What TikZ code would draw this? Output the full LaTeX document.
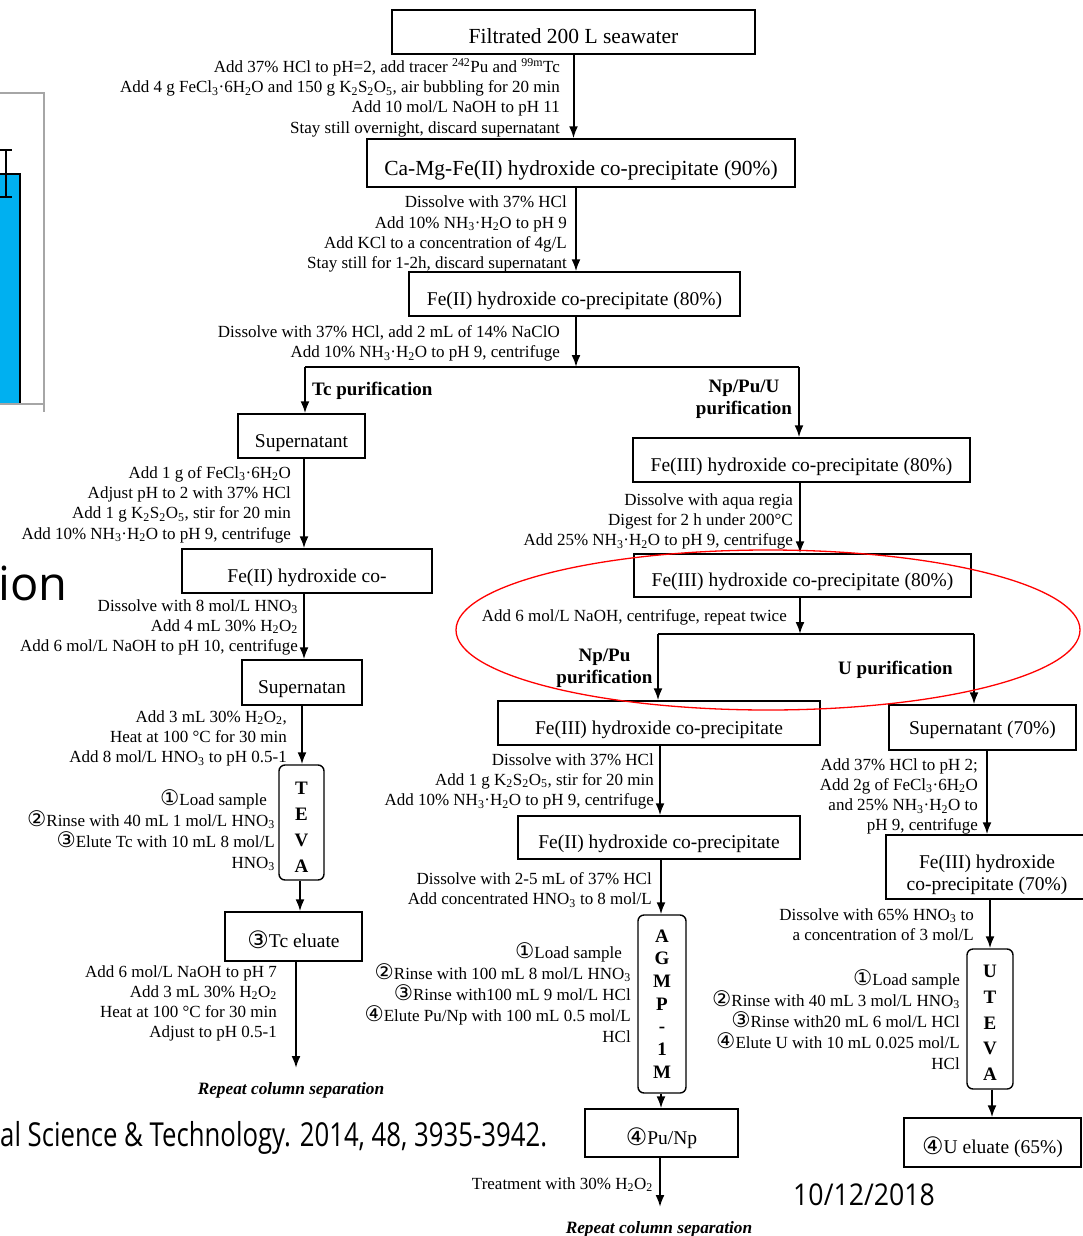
\documentclass[tikz,border=0pt]{standalone}
\usepackage{fontspec}
\usepackage{graphicx}
\setmainfont{Liberation Serif}
\newfontfamily\circf{DejaVu Sans}
\newfontfamily\osans{Open Sans}
\usetikzlibrary{arrows.meta,calc}
\newcommand\sbs[1]{\textsubscript{#1}}
\newcommand\sps[1]{\textsuperscript{#1}}
\newcommand\cn[1]{\raisebox{-0.5pt}[0pt][0pt]{\circf\fontsize{21.5}{21.5}\selectfont #1}}
\newcommand\cnb[1]{\raisebox{-1pt}[0pt][0pt]{\circf\fontsize{24}{24}\selectfont #1}}
\newcommand\nhh{NH\sbs{3}·H\sbs{2}O}
\definecolor{barblue}{HTML}{00B0F0}
\definecolor{framegray}{HTML}{A6A6A6}
\begin{document}
\begin{tikzpicture}[x=1pt,y=-1pt,
  wh/.style 2 args={minimum width=#1pt, minimum height=#2pt},
  box/.style={draw, line width=1.4pt, inner sep=0pt, text height=22pt, text depth=0pt, font=\fontsize{19.5}{22}\selectfont},
  bigbox/.style={box, text height=24pt, font=\fontsize{21.5}{24}\selectfont},
  colbox/.style={draw, line width=1.4pt, rounded corners=6pt, inner sep=0pt, align=center},
  ops/.style={inner sep=0pt, align=right, anchor=north east, font=\fontsize{17}{20.3}\selectfont},
  ops2/.style={ops, font=\fontsize{17}{21}\selectfont},
  lab/.style={inner sep=0pt, align=center, font=\bfseries\fontsize{19}{22}\selectfont},
  rep/.style={inner sep=0pt, font=\bfseries\itshape\fontsize{17.3}{20}\selectfont},
  arr/.style={line width=2pt, -{Latex[length=12pt,width=9pt]}},
  ln/.style={line width=2pt},
]
\fill[white] (0,0) rectangle (1083,1236);
\path[use as bounding box] (0,0) rectangle (1083,1236);

% chart fragment
\fill[barblue] (-2,174) rectangle (20,404);
\draw[line width=1.5pt] (-2,174) -- (20,174) -- (20,404);
\draw[framegray, line width=2pt] (-2,93) -- (44,93) -- (44,412);
\draw[framegray, line width=2pt] (-2,404) -- (44,404);
\draw[line width=1.5pt] (6,150) -- (6,197) (0,150) -- (12,150) (0,197) -- (12,197);

% sans fragments
\node[inner sep=0pt, anchor=base east, font=\osans\fontsize{47}{50}\selectfont] (ion) at (68,600) {ion};
\node[inner sep=0pt, anchor=base west, font=\osans\fontsize{33}{36}\selectfont] (cite) at (0,1146) {\scalebox{0.78}[1]{al Science \& Technology. 2014, 48, 3935-3942.}};
\node[inner sep=0pt, anchor=base west, font=\osans\fontsize{30}{34}\selectfont] (date) at (793,1205) {\scalebox{0.89}[1]{10/12/2018}};

% boxes
\node[bigbox, wh={363}{44}] (b1) at (573.5,32) {Filtrated 200 L seawater};
\node[bigbox, wh={428}{48}] (b2) at (581,163) {Ca-Mg-Fe(II) hydroxide co-precipitate (90\%)};
\node[box, wh={331}{44}] (b3) at (574.5,294) {Fe(II) hydroxide co-precipitate (80\%)};
\node[box, wh={127}{44}] (sup1) at (301.5,436) {Supernatant};
\node[box, wh={250}{44}] (fe2a) at (307,571) {Fe(II) hydroxide co-};
\node[box, wh={120}{45}] (sup2) at (302,682.5) {Supernatan};
\node[colbox, wh={45}{115}, font=\bfseries\fontsize{19}{26}\selectfont] (teva) at (301.5,822.5) {\rule{0pt}{21pt}T\\E\\V\\A};
\node[box, wh={137}{49}] (tcel) at (293.5,936.5) {\cnb{③}Tc eluate};
\node[box, wh={337}{44}] (fe3a) at (801.5,460) {Fe(III) hydroxide co-precipitate (80\%)};
\node[box, wh={337}{43}] (fe3b) at (802.5,575.5) {Fe(III) hydroxide co-precipitate (80\%)};
\node[box, wh={322}{44}] (fe3c) at (659,723) {Fe(III) hydroxide co-precipitate};
\node[box, wh={282}{43}] (fe2d) at (659,837.5) {Fe(II) hydroxide co-precipitate};
\node[colbox, wh={48}{178}, font=\bfseries\fontsize{19}{22.7}\selectfont] (agmp) at (662,1004) {A\\G\\M\\P\\-\\1\\M};
\node[box, wh={153}{48}] (punp) at (661.5,1133) {\cnb{④}Pu/Np};
\node[box, wh={187}{45}, text height=13pt] (sup70) at (982.5,727.5) {Supernatant (70\%)};
\node[draw, line width=1.4pt, inner sep=0pt, wh={204}{64}] (fe370) at (988,867) {};
\node[inner sep=0pt, align=center, font=\fontsize{19.5}{22}\selectfont] (fe370t) at (987,875) {Fe(III) hydroxide\\co-precipitate (70\%)};
\node[colbox, wh={46}{140}, font=\bfseries\fontsize{19}{25.8}\selectfont] (uteva) at (990,1019) {\rule{0pt}{20pt}U\\T\\E\\V\\A};
\node[box, wh={177}{49}] (uel) at (992.5,1142.5) {\cnb{④}U eluate (65\%)};

% connector coordinates
\coordinate (k1) at (576,0);
\coordinate (k2) at (304,0);
\coordinate (k3) at (302,0);
\coordinate (k4) at (300,0);
\coordinate (k5) at (296,0);
\coordinate (k6) at (800,0);
\coordinate (k7) at (660,0);
\coordinate (k8) at (661,0);
\coordinate (k9) at (987,0);
\coordinate (k10) at (990,0);
\coordinate (k11) at (992,0);
\coordinate (spM) at (576,367);
\coordinate (spL) at (305,367);
\coordinate (spR) at (799,367);
\coordinate (sp2M) at (800,634);
\coordinate (sp2L) at (658,634);
\coordinate (sp2R) at (974,634);
\coordinate (tcEnd) at (296,1068);
\coordinate (puEnd) at (660,1207);

% connectors
\draw[arr] (b1.south) -- (b1.south |- b2.north);
\draw[arr] (k1 |- b2.south) -- (k1 |- b3.north);
\draw[arr] (k1 |- b3.south) -- (spM);
\draw[ln] (spL) -- (spR);
\draw[arr] (spL) -- (spL |- sup1.north);
\draw[arr] (spR) -- (spR |- fe3a.north);
\draw[arr] (k2 |- sup1.south) -- (k2 |- fe2a.north);
\draw[arr] (k2 |- fe2a.south) -- (k2 |- sup2.north);
\draw[arr] (k3 |- sup2.south) -- (k3 |- teva.north);
\draw[arr] (k4 |- teva.south) -- (k4 |- tcel.north);
\draw[arr] (k5 |- tcel.south) -- (tcEnd);
\draw[arr] (k6 |- fe3a.south) -- (k6 |- fe3b.north);
\draw[arr] (k6 |- fe3b.south) -- (sp2M);
\draw[ln] (sp2L) -- (sp2R);
\draw[arr] (sp2L) -- (sp2L |- fe3c.north);
\draw[arr] (sp2R) -- (sp2R |- sup70.north);
\draw[arr] (k7 |- fe3c.south) -- (k7 |- fe2d.north);
\draw[arr] (k8 |- fe2d.south) -- (k8 |- agmp.north);
\draw[arr] (k8 |- agmp.south) -- (k8 |- punp.north);
\draw[arr] (k7 |- punp.south) -- (puEnd);
\draw[arr] (k9 |- sup70.south) -- (k9 |- fe370.north);
\draw[arr] (k10 |- fe370.south) -- (k10 |- uteva.north);
\draw[arr] (k11 |- uteva.south) -- (k11 |- uel.north);

% step texts
\node[ops] (t1) at (560,58) {Add 37\% HCl to pH=2, add tracer \sps{242}Pu and \sps{99m}Tc\\
Add 4 g FeCl\sbs{3}·6H\sbs{2}O and 150 g K\sbs{2}S\sbs{2}O\sbs{5}, air bubbling for 20 min\\
Add 10 mol/L NaOH to pH 11\\
Stay still overnight, discard supernatant};
\node[ops] (t2) at (567,196) {Dissolve with 37\% HCl\\
Add 10\% \nhh{} to pH 9\\
Add KCl to a concentration of 4g/L\\
Stay still for 1-2h, discard supernatant};
\node[ops] (t3) at (560,325) {Dissolve with 37\% HCl, add 2 mL of 14\% NaClO\\
Add 10\% \nhh{} to pH 9, centrifuge};
\node[ops] (t4) at (291,466) {Add 1 g of FeCl\sbs{3}·6H\sbs{2}O\\
Adjust pH to 2 with 37\% HCl\\
Add 1 g K\sbs{2}S\sbs{2}O\sbs{5}, stir for 20 min\\
Add 10\% \nhh{} to pH 9, centrifuge};
\node[ops] (t5) at (298,599) {Dissolve with 8 mol/L HNO\sbs{3}\\
Add 4 mL 30\% H\sbs{2}O\sbs{2}\\
Add 6 mol/L NaOH to pH 10, centrifuge};
\node[ops] (t6) at (287,710) {Add 3 mL 30\% H\sbs{2}O\sbs{2},\\
Heat at 100 °C for 30 min\\
Add 8 mol/L HNO\sbs{3} to pH 0.5-1};
\node[ops2] (t7) at (275,793) {\cn{①}Load sample\hspace*{8pt}\\
\cn{②}Rinse with 40 mL 1 mol/L HNO\sbs{3}\hspace*{8pt}\\
\cn{③}Elute Tc with 10 mL 8 mol/L\\
HNO\sbs{3}};
\node[ops] (t8) at (277,965) {Add 6 mol/L NaOH to pH 7\\
Add 3 mL 30\% H\sbs{2}O\sbs{2}\\
Heat at 100 °C for 30 min\\
Adjust to pH 0.5-1};
\node[rep] (rep1) at (291,1090) {Repeat column separation};
\node[ops] (t10) at (793,493) {Dissolve with aqua regia\\
Digest for 2 h under 200°C\\
Add 25\% \nhh{} to pH 9, centrifuge};
\node[ops] (t11) at (787,609) {Add 6 mol/L NaOH, centrifuge, repeat twice};
\node[ops] (t12) at (654,753) {Dissolve with 37\% HCl\\
Add 1 g K\sbs{2}S\sbs{2}O\sbs{5}, stir for 20 min\\
Add 10\% \nhh{} to pH 9, centrifuge};
\node[ops] (t13) at (652,872) {Dissolve with 2-5 mL of 37\% HCl\\
Add concentrated HNO\sbs{3} to 8 mol/L};
\node[ops2] (t14) at (631,946) {\cn{①}Load sample\hspace*{9pt}\\
\cn{②}Rinse with 100 mL 8 mol/L HNO\sbs{3}\hspace*{9pt}\\
\cn{③}Rinse with100 mL 9 mol/L HCl\\
\cn{④}Elute Pu/Np with 100 mL 0.5 mol/L\\
HCl};
\node[ops] (t15) at (653,1177) {Treatment with 30\% H\sbs{2}O\sbs{2}};
\node[rep] (rep2) at (659,1229) {Repeat column separation};
\node[ops] (t17) at (978,758) {Add 37\% HCl to pH 2;\\
Add 2g of FeCl\sbs{3}·6H\sbs{2}O\\
and 25\% \nhh{} to\\
pH 9, centrifuge};
\node[ops] (t18) at (974,908) {Dissolve with 65\% HNO\sbs{3} to\\
a concentration of 3 mol/L};
\node[ops2] (t19) at (960,973) {\cn{①}Load sample\\
\cn{②}Rinse with 40 mL 3 mol/L HNO\sbs{3}\\
\cn{③}Rinse with20 mL 6 mol/L HCl\\
\cn{④}Elute U with 10 mL 0.025 mol/L\\
HCl};

% branch labels
\node[lab, anchor=west] (ltc) at (312,391) {Tc purification};
\node[lab] (lnpu) at (744,399) {Np/Pu/U\\purification};
\node[lab] (lnp) at (604.5,668) {Np/Pu\\purification};
\node[lab] (lu) at (895.5,670) {U purification};

% red ellipse
\draw[red, line width=1.3pt] (768,630) ellipse [x radius=312, y radius=80];
\end{tikzpicture}
\end{document}
